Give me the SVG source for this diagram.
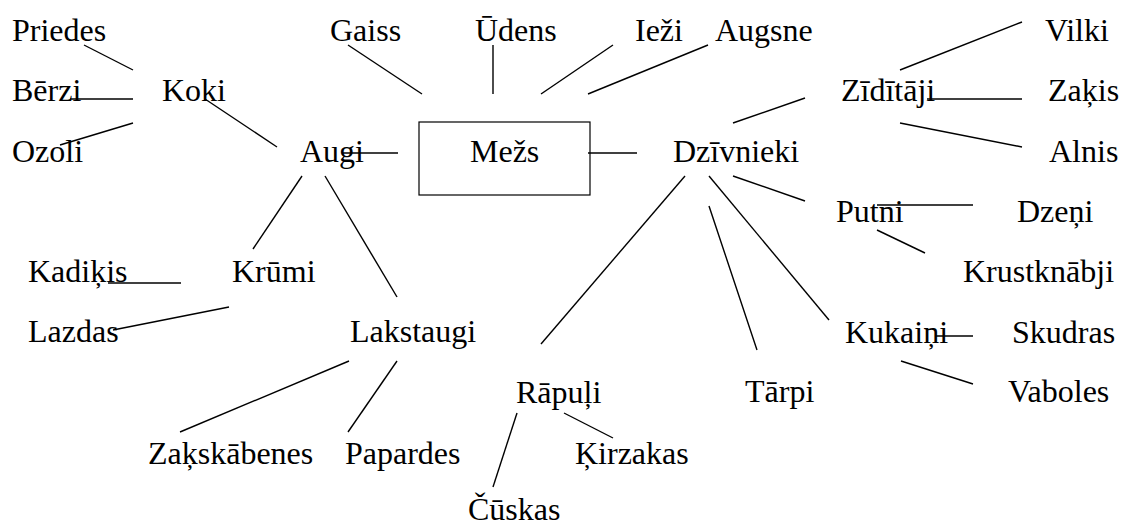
<svg xmlns="http://www.w3.org/2000/svg" width="1122" height="526" viewBox="0 0 1122 526">
<style>
text { font-family: "Times New Roman", "Liberation Serif", "DejaVu Serif", serif; font-size: 32px; fill: #000; }
.c line { stroke: #000; stroke-width: 1.4; }
.box { fill: #fff; stroke: #000; stroke-width: 1.2; }
</style>
<rect width="1122" height="526" fill="#fff"/>
<g id="nodes">
<g id="mezs"><rect class="box" x="419" y="122" width="171" height="73"/><text x="470" y="162">Mežs</text></g>
<g id="gaiss"><text x="330" y="41">Gaiss</text></g>
<g id="udens"><text x="475" y="41">Ūdens</text></g>
<g id="iezi"><text x="635" y="41">Ieži</text></g>
<g id="augsne"><text x="715" y="41">Augsne</text></g>
<g id="augi"><text x="300" y="162">Augi</text></g>
<g id="koki"><text x="162" y="101">Koki</text></g>
<g id="priedes"><text x="12" y="41">Priedes</text></g>
<g id="berzi"><text x="12" y="101">Bērzi</text></g>
<g id="ozoli"><text x="12" y="162">Ozoli</text></g>
<g id="krumi"><text x="232" y="282">Krūmi</text></g>
<g id="kadikis"><text x="28" y="282">Kadiķis</text></g>
<g id="lazdas"><text x="28" y="342">Lazdas</text></g>
<g id="lakstaugi"><text x="350" y="342">Lakstaugi</text></g>
<g id="zakskabenes"><text x="148" y="464">Zaķskābenes</text></g>
<g id="papardes"><text x="345" y="464">Papardes</text></g>
<g id="dzivnieki"><text x="673" y="162">Dzīvnieki</text></g>
<g id="ziditaji"><text x="841" y="101">Zīdītāji</text></g>
<g id="vilki"><text x="1045" y="41">Vilki</text></g>
<g id="zakis"><text x="1048" y="101">Zaķis</text></g>
<g id="alnis"><text x="1049" y="162">Alnis</text></g>
<g id="putni"><text x="836" y="222">Putni</text></g>
<g id="dzeni"><text x="1017" y="222">Dzeņi</text></g>
<g id="krustknabji"><text x="963" y="282">Krustknābji</text></g>
<g id="kukaini"><text x="845" y="343">Kukaiņi</text></g>
<g id="skudras"><text x="1012" y="343">Skudras</text></g>
<g id="vaboles"><text x="1008" y="402">Vaboles</text></g>
<g id="tarpi"><text x="745" y="402">Tārpi</text></g>
<g id="rapuli"><text x="516" y="403">Rāpuļi</text></g>
<g id="kirzakas"><text x="575" y="464">Ķirzakas</text></g>
<g id="cuskas"><text x="468" y="520">Čūskas</text></g>
</g>
<g id="connectors" class="c">
<line x1="348" y1="45" x2="422" y2="94"/>
<line x1="493" y1="45" x2="493" y2="94"/>
<line x1="613" y1="45" x2="541" y2="94"/>
<line x1="708" y1="45" x2="588" y2="94"/>
<line x1="342" y1="153" x2="398" y2="153"/>
<line x1="588" y1="153" x2="637" y2="153"/>
<line x1="84" y1="45" x2="133" y2="70"/>
<line x1="70" y1="99" x2="133" y2="99"/>
<line x1="60" y1="145" x2="133" y2="123"/>
<line x1="205" y1="99" x2="277" y2="147"/>
<line x1="302" y1="176" x2="253" y2="249"/>
<line x1="325" y1="176" x2="397" y2="297"/>
<line x1="108" y1="283" x2="181" y2="283"/>
<line x1="113" y1="330" x2="229" y2="307"/>
<line x1="349" y1="361" x2="180" y2="432"/>
<line x1="397" y1="361" x2="348" y2="432"/>
<line x1="733" y1="123" x2="805" y2="98"/>
<line x1="900" y1="70" x2="1022" y2="22"/>
<line x1="927" y1="99" x2="1022" y2="99"/>
<line x1="900" y1="123" x2="1022" y2="147"/>
<line x1="733" y1="176" x2="805" y2="201"/>
<line x1="877" y1="205" x2="973" y2="205"/>
<line x1="877" y1="230" x2="925" y2="253"/>
<line x1="709" y1="176" x2="829" y2="320"/>
<line x1="935" y1="336" x2="973" y2="336"/>
<line x1="901" y1="361" x2="973" y2="384"/>
<line x1="709" y1="206" x2="757" y2="350"/>
<line x1="685" y1="176" x2="541" y2="344"/>
<line x1="517" y1="413" x2="493" y2="487"/>
<line x1="564" y1="413" x2="613" y2="438"/>
</g>
</svg>
